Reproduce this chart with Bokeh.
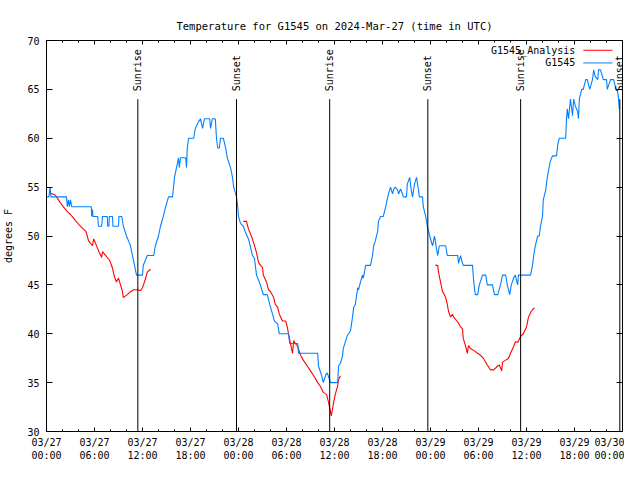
import math
import pandas as pd
from bokeh.plotting import figure
from bokeh.models import (Range1d, LinearAxis, DatetimeAxis, FixedTicker, CustomJSTickFormatter,
                          DatetimeTickFormatter, Label, Arrow, ColumnDataSource)
from bokeh.core.properties import value
from bokeh.embed import file_html
from bokeh.resources import INLINE

START = pd.Timestamp("2024-03-27 00:00")
END = pd.Timestamp("2024-03-30 00:00")
NAN = float("nan")

# G1545 observations (hours since 03/27 00:00 UTC, degrees F)
obs_hours = [0.0, 0.3, 0.45, 0.55, 2.5, 2.6, 2.75, 2.85, 3.0, 3.15, 5.6, 5.65, 5.75, 5.8, 6.4, 6.5, 6.9, 7.0,
             7.6, 7.65, 7.8, 7.85, 8.25, 8.3, 9.0, 9.05, 9.4, 9.6, 10.0, 10.25, 10.5, 10.75, 11.0, 11.25,
             12.0, 12.1, 12.6, 13.4, 13.6, 14.0, 14.25, 14.6, 14.9, 15.25, 15.75, 16.0, 16.25, 16.5, 16.6,
             16.75, 17.0, 17.4, 17.5, 17.6, 17.75, 18.4, 18.6, 19.0, 19.25, 19.5, 19.75, 20.4, 20.5, 20.75,
             21.1, 21.25, 21.4, 21.6, 21.75, 22.1, 22.4, 22.6, 23.0, 23.25, 23.4, 23.75, 23.9, 24.0, 24.25,
             24.6, 24.9, 25.25, 25.75, 26.0, 26.25, 26.6, 27.0, 27.1, 27.6, 27.9, 28.25, 28.5, 28.9, 29.1,
             30.25, 30.4, 31.4, 31.5, 33.9, 34.0, 34.4, 34.6, 34.9, 35.1, 35.3, 35.5, 36.4, 36.5, 36.75,
             37.0, 37.1, 37.6, 38.0, 38.25, 38.4, 38.6, 38.9, 39.0, 39.25, 39.5, 39.6, 39.9, 40.5, 40.75,
             40.9, 41.1, 41.4, 41.5, 41.75, 42.1, 42.4, 42.75, 43.0, 43.25, 43.4, 43.6, 43.9, 44.0, 44.25,
             44.5, 44.6, 45.0, 45.1, 45.4, 45.6, 45.75, 46.0, 46.25, 46.5, 46.6, 47.0, 47.1, 47.4, 47.6,
             47.9, 48.25, 48.5, 48.75, 48.9, 49.1, 49.9, 50.1, 51.4, 51.5, 51.75, 52.0, 52.1, 53.25, 53.4,
             53.6, 53.9, 54.1, 54.5, 54.9, 55.1, 55.75, 56.0, 56.4, 56.75, 57.0, 57.4, 57.6, 57.9, 58.1,
             58.4, 58.6, 58.9, 59.0, 60.5, 60.75, 60.9, 61.1, 61.4, 61.6, 61.75, 62.0, 62.1, 62.4, 62.6,
             62.75, 63.0, 63.25, 63.75, 63.9, 64.1, 64.9, 65.0, 65.1, 65.25, 65.5, 65.75, 65.9, 66.1, 66.4,
             66.5, 66.6, 66.9, 67.1, 67.4, 67.6, 67.9, 68.25, 68.4, 68.6, 68.9, 69.0, 69.25, 69.5, 69.6,
             70.0, 70.1, 70.5, 70.9, 71.1, 71.4, 71.5, 71.6]
obs_temps = [54, 54, 55, 54, 54, 53, 53.7, 53, 53.7, 53, 53, 52, 52.7, 52, 52, 51, 51, 52,
             52, 51, 51, 52, 52, 51, 51, 52, 52, 51, 50, 49.5, 49, 48, 47, 46,
             46, 47, 48, 48, 49, 50, 51, 52, 53, 54, 54, 56, 57, 58, 57,
             58, 58, 58, 57, 59, 60, 60, 61, 61.7, 62, 61, 62, 62, 61, 62,
             62, 60, 59, 59, 60, 60, 59, 58, 57, 56, 55, 54, 53, 52, 51.3,
             51, 50.3, 49.7, 48, 47.7, 46, 45.3, 44.3, 44, 44, 43, 42, 41.3, 41, 40,
             40, 39, 39, 38, 38, 36.7, 35.7, 35, 35.8, 36, 35.5, 35, 35, 36.7, 37,
             37.7, 38.5, 39.8, 40.3, 41.7, 42.7, 43, 44.7, 44.5, 45.3, 46, 45.7, 47, 47, 48,
             49, 49.5, 50.5, 51.5, 52, 52, 53, 54.3, 55, 54.3, 54.8, 55, 54.7, 54.3, 54.8,
             54.3, 54, 54, 55.3, 56, 54.7, 54, 55.3, 56, 54.7, 54, 54, 53, 52, 51,
             50, 49, 50, 48.7, 48, 49, 49, 48, 48, 47.2, 48, 47.2, 47, 47, 45.3,
             44, 44, 45, 46, 46, 45, 45, 44, 44, 45, 46, 46, 45, 44, 45,
             45.7, 46, 45, 46, 46, 47, 48, 49, 50, 50, 51, 52, 53.7, 54.7, 56,
             56.7, 57.7, 58.2, 58.2, 59.3, 60, 60, 62, 63, 62, 64, 62.3, 64, 63.3, 62.7,
             62, 64, 65, 65, 66, 66, 65, 66, 67, 66.3, 66, 67, 67, 66.3, 66,
             66, 65, 66, 66, 65.3, 64.7, 64, 63]

# G1545_Analysis (three 12-hour runs, NaN = gap)
ana_hours = [0.4, 0.75, 1.1, 1.5, 1.9, 2.1, 2.6, 3.0, 3.4, 3.6, 4.0, 4.5, 4.9, 5.1, 5.25, 5.75, 5.9, 6.1,
             6.5, 6.9, 7.0, 7.4, 7.6, 7.9, 8.25, 8.5, 8.75, 9.0, 9.25, 9.5, 9.6, 10.1, 10.5, 10.9, 11.4,
             11.75, 12.0, 12.4, 12.6, 13.0, 13.1,
             24.6, 25.0, 25.25, 25.6, 25.9, 26.25, 26.5, 26.75, 27.0, 27.1, 27.5, 27.75, 28.0, 28.4, 28.6,
             28.9, 29.1, 29.5, 29.9, 30.1, 30.25, 30.5, 30.75, 30.9, 31.1, 31.4, 31.75, 32.1, 32.6, 33.0,
             33.4, 33.9, 34.25, 34.6, 35.0, 35.25, 35.6, 35.9, 36.1, 36.4, 36.5, 36.75, 36.9,
             48.6, 48.9, 49.0, 49.25, 49.5, 49.6, 49.9, 50.1, 50.25, 50.5, 50.75, 50.9, 51.4, 51.75, 52.0,
             52.1, 52.4, 52.6, 52.75, 53.0, 53.4, 53.9, 54.25, 54.6, 55.1, 55.5, 55.9, 56.4, 56.6, 56.9,
             57.0, 57.4, 57.75, 58.0, 58.4, 58.6, 58.9, 59.25, 59.6, 60.0, 60.25, 60.6, 60.9, 61.0]
ana_temps = [54.4, 54.3, 54.2, 53.7, 53.2, 53.0, 52.5, 52.2, 51.8, 51.6, 51.2, 50.8, 50.5, 50.0, 49.5, 49.0, 49.7, 49.3,
             48.5, 47.8, 48.4, 48.0, 47.8, 47.5, 46.7, 45.8, 45.3, 45.7, 45.0, 44.3, 43.7, 44.0, 44.3, 44.5, 44.5,
             44.4, 44.7, 45.7, 46.3, 46.6, NAN,
             51.5, 51.5, 50.7, 50.0, 49.3, 48.3, 47.3, 47.0, 46.8, 46.0, 45.3, 44.5, 44.3, 43.7, 43.0,
             42.7, 42.0, 41.3, 41.3, 40.7, 40.0, 39.0, 38.0, 39.3, 39.0, 38.7, 37.8, 37.3, 36.7, 36.2,
             35.7, 35.0, 34.6, 34.0, 33.8, 33.0, 31.6, 33.0, 33.8, 34.7, 35.3, 35.7, NAN,
             47.0, 47.0, 46.3, 45.3, 44.3, 44.2, 43.7, 43.0, 42.3, 41.7, 42.0, 41.7, 41.2, 40.7, 40.5,
             39.5, 38.7, 38.0, 38.8, 38.5, 38.3, 38.0, 37.8, 37.5, 36.8, 36.3, 36.3, 36.7, 36.8, 36.2,
             37.1, 37.3, 37.5, 38.0, 38.7, 39.2, 39.1, 39.7, 40.0, 40.7, 41.7, 42.3, 42.6, 42.6]

event_times = ["2024-03-27 11:25", "2024-03-27 23:45", "2024-03-28 11:24",
               "2024-03-28 23:40", "2024-03-29 11:16", "2024-03-29 23:40"]
event_names = ["Sunrise", "Sunset", "Sunrise", "Sunset", "Sunrise", "Sunset"]

tick_hours = list(range(0, 73, 6))
minor_hours = list(range(0, 73, 2))
y_ticks = [30, 35, 40, 45, 50, 55, 60, 65, 70]

MONO = "DejaVu Sans Mono"
RED = "#ff0000"
BLUE = "#0080ff"


def ts(h):
    return START + pd.Timedelta(hours=h)


def ms(t):
    return (t - pd.Timestamp("1970-01-01")).total_seconds() * 1000.0


obs_src = ColumnDataSource(dict(t=[ts(h) for h in obs_hours], v=obs_temps))
ana_src = ColumnDataSource(dict(t=[ts(h) for h in ana_hours], v=ana_temps))
ev_t = [pd.Timestamp(s) for s in event_times]
ev_src = ColumnDataSource(dict(t=ev_t, name=event_names,
                               y0=[30] * len(ev_t), y1=[64] * len(ev_t), ylab=[64.8] * len(ev_t)))

p = figure(width=624, height=464, x_axis_type="datetime",
           x_range=Range1d(START, END), y_range=Range1d(30, 70),
           output_backend="svg", toolbar_location=None,
           title="Temperature for G1545 on 2024-Mar-27 (time in UTC)",
           min_border_left=46, min_border_right=2, min_border_top=40, min_border_bottom=28)
p.background_fill_color = "white"
p.border_fill_color = "white"
p.outline_line_color = "black"
p.outline_line_width = 1
p.xgrid.visible = False
p.ygrid.visible = False

p.title.align = "center"
p.title.text_font = MONO
p.title.text_font_size = "10.5px"
p.title.text_font_style = "normal"
p.title.text_color = "black"
p.title.standoff = 18

fmt_str = "%m/%d\n%H:%M"
fmt = DatetimeTickFormatter(microseconds=fmt_str, milliseconds=fmt_str, seconds=fmt_str,
                            minsec=fmt_str, minutes=fmt_str, hourmin=fmt_str, hours=fmt_str,
                            days=fmt_str, months=fmt_str, years=fmt_str)
blank = CustomJSTickFormatter(code="return ''")
xticker = FixedTicker(ticks=[ms(ts(h)) for h in tick_hours],
                      minor_ticks=[ms(ts(h)) for h in minor_hours])
yticker = FixedTicker(ticks=y_ticks, minor_ticks=[])

xa = p.xaxis[0]
xa.ticker = xticker
xa.formatter = fmt
xa.major_tick_in = 4
xa.major_tick_out = 0
xa.minor_tick_in = 2
xa.minor_tick_out = 0
xa.major_label_text_font = MONO
xa.major_label_text_font_size = "10px"
xa.major_label_text_line_height = 1.25
xa.major_label_standoff = 5
xa.major_label_text_color = "black"

ya = p.yaxis[0]
ya.ticker = yticker
ya.major_tick_in = 6
ya.major_tick_out = 0
ya.minor_tick_in = 0
ya.minor_tick_out = 0
ya.major_label_text_font = MONO
ya.major_label_text_font_size = "10px"
ya.major_label_standoff = 7
ya.major_label_text_color = "black"
ya.axis_label = "degrees F"
ya.axis_label_text_font = MONO
ya.axis_label_text_font_size = "10px"
ya.axis_label_text_font_style = "normal"
ya.axis_label_text_color = "black"
ya.axis_label_standoff = 10

top = DatetimeAxis(ticker=xticker, formatter=blank, major_tick_in=4, major_tick_out=0,
                   minor_tick_in=2, minor_tick_out=0, major_label_standoff=0,
                   major_label_text_font_size="1px")
p.add_layout(top, "above")
right = LinearAxis(ticker=yticker, formatter=blank, major_tick_in=6, major_tick_out=0,
                   minor_tick_in=0, minor_tick_out=0, major_label_standoff=0,
                   major_label_text_font_size="1px")
p.add_layout(right, "right")

# data
p.line("t", "v", source=ana_src, color=RED, line_width=1.1)
p.line("t", "v", source=obs_src, color=BLUE, line_width=1.1)

# sunrise / sunset markers
p.segment(x0="t", y0="y0", x1="t", y1="y1", source=ev_src, color="black", line_width=1)
p.text(x="t", y="ylab", text="name", source=ev_src, angle=math.pi / 2,
       text_align="left", text_baseline="middle", text_font=value(MONO),
       text_font_size="10px", text_color="black")

# gnuplot-style key (label, then line sample)
key_labels = ["G1545_Analysis", "G1545"]
key_colors = [RED, BLUE]
key_y = [69.0, 67.7]
key_text_h = 66.1
key_line_h = (67.1, 70.75)
for lab, col, yy in zip(key_labels, key_colors, key_y):
    p.add_layout(Label(x=ms(ts(key_text_h)), y=yy, text=lab, text_align="right",
                       text_baseline="middle", text_font=MONO, text_font_size="10px",
                       text_color="black"))
    p.add_layout(Arrow(start=None, end=None, x_start=ms(ts(key_line_h[0])), y_start=yy,
                       x_end=ms(ts(key_line_h[1])), y_end=yy, line_color=col, line_width=1))

open("out.html", "w").write(file_html(p, INLINE))
